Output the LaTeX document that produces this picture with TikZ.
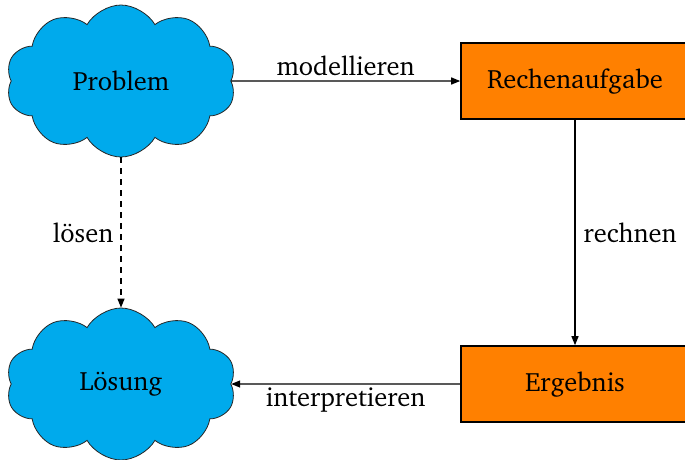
\documentclass[tikz,border=0pt]{standalone}
\usepackage[T1]{fontenc}
\usepackage{charter}
\usetikzlibrary{shapes.symbols,arrows.meta}
\definecolor{cloudblue}{RGB}{0,170,236}
\definecolor{boxorange}{RGB}{255,128,0}
\tikzset{
  wolke/.style={cloud, cloud puffs=10, cloud puff arc=120, aspect=1.5, draw=black!85, line width=0.8pt, fill=cloudblue, minimum width=230pt, minimum height=152pt, inner sep=0pt},
  kasten/.style={rectangle, draw=black, line width=1.6pt, fill=boxorange, minimum width=228pt, minimum height=76pt, inner sep=0pt},
  pfeil/.style={line width=1.3pt, -{Triangle[length=9pt,width=7pt]}},
  lbl/.style={inner sep=3pt}
}
\begin{document}
\begin{tikzpicture}[x=1pt,y=-1pt,font=\fontsize{26.5}{30}\selectfont]
\useasboundingbox (0,0) rectangle (685,459);
\clip (0,0) rectangle (685,459);
\node[wolke] (problem) at (121,81) {Problem};
\node[wolke] (loesung) at (121,384) {Lösung};
\node[kasten] (rechen) at (575,81) {Rechenaufgabe};
\node[kasten] (ergebnis) at (575,384) {Ergebnis};
\draw[pfeil] (problem.east) -- node[lbl,above,yshift=1pt] {modellieren} (rechen.west);
\draw[pfeil] (rechen.south) -- node[lbl,right,xshift=5pt] {rechnen} (ergebnis.north);
\draw[pfeil] (ergebnis.west) -- node[lbl,below] {interpretieren} (loesung.east);
\draw[pfeil,dashed,dash pattern=on 6pt off 5pt] (problem.south) -- node[lbl,left,xshift=-4pt] {lösen} (loesung.north);
\end{tikzpicture}
\end{document}
